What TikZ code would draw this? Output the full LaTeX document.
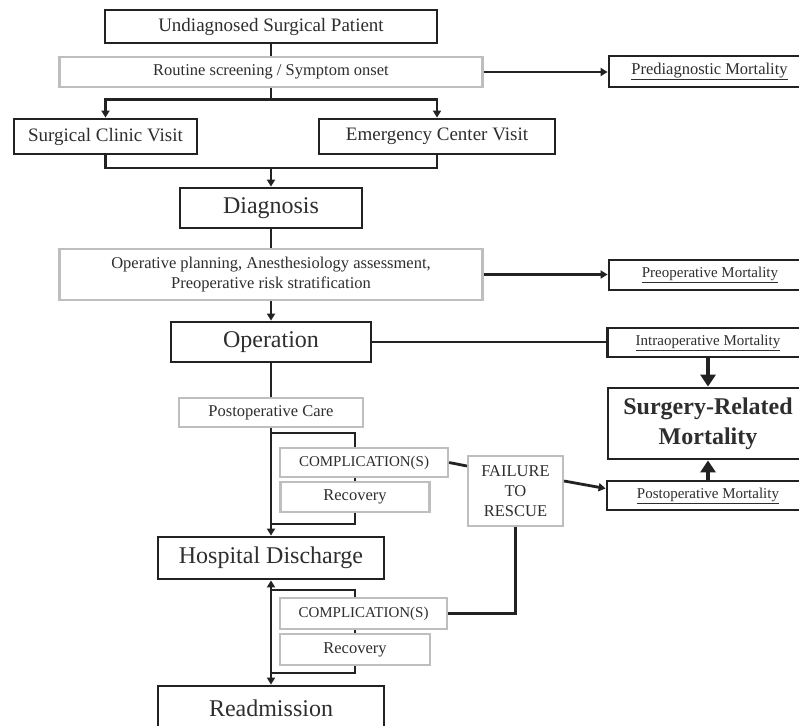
\documentclass[tikz,border=0pt]{standalone}
\usepackage{fontspec}
\setmainfont{Liberation Serif}
\usetikzlibrary{arrows.meta}
\definecolor{txt}{HTML}{2E2E2E}
\definecolor{edge}{HTML}{222222}
\definecolor{soft}{HTML}{BEBEBE}
\newcommand{\bigfont}{\fontsize{24}{28}\selectfont}
\newcommand{\midfont}{\fontsize{19}{22}\selectfont}
\newcommand{\smallfont}{\fontsize{16.5}{20}\selectfont}
\newcommand{\mortfont}{\fontsize{15}{18}\selectfont}
\newcommand{\mortlabel}[1]{\underline{#1}}

\begin{document}
\begin{tikzpicture}[
      x=1pt, y=-1pt,
      every node/.style={inner sep=0pt, align=center, text=txt},
      stage/.style={draw=edge, line width=2.8pt, fill=white},
      soft box/.style={draw=soft, line width=2.2pt, fill=white},
      link/.style={draw=edge, line width=2.8pt},
      arr/.style={-{Triangle[length=7pt,width=8pt]}},
      twoway/.style={{Triangle[length=7pt,width=8pt]}-{Triangle[length=7pt,width=8pt]}},
      heavy/.style={draw=edge, line width=3.8pt, -{Triangle[length=12pt,width=15pt]}}
    ]
      \useasboundingbox (0,0) rectangle (799,725);
      \clip (0,0) rectangle (799,725);

      % Main pathway, top to bottom
      \node[stage, font=\midfont, minimum width=332, minimum height=33] (patient) at (271,26.5) {Undiagnosed Surgical Patient};
      \node[soft box, font=\smallfont, minimum width=423, minimum height=30] (screen) at (271,72) {Routine screening / Symptom onset};
      \node[stage, font=\midfont, minimum width=183, minimum height=35] (clinic) at (105.5,136.5) {Surgical Clinic Visit};
      \node[stage, font=\midfont, minimum width=236, minimum height=35] (emerg) at (437,136.5) {Emergency Center Visit};
      \node[stage, font=\bigfont, minimum width=182, minimum height=40] (diag) at (271,208) {Diagnosis};
      \node[soft box, font=\smallfont, minimum width=423, minimum height=51] (plan) at (271,274.5) {Operative planning, Anesthesiology assessment,\\ Preoperative risk stratification};
      \node[stage, font=\bigfont, minimum width=200, minimum height=40] (oper) at (271,342) {Operation};
      \node[soft box, font=\smallfont, minimum width=184, minimum height=29] (care) at (271,412.5) {Postoperative Care};
      \node[soft box, font=\mortfont, minimum width=168, minimum height=29] (comp1) at (364,462.5) {COMPLICATION(S)};
      \node[soft box, font=\smallfont, minimum width=149, minimum height=30] (rec1) at (355,497) {Recovery};
      \node[soft box, font=\smallfont, minimum width=95, minimum height=70] (fail) at (515.5,491) {FAILURE\\ TO\\ RESCUE};
      \node[stage, font=\bigfont, minimum width=226, minimum height=42] (disch) at (271,558) {Hospital Discharge};
      \node[soft box, font=\mortfont, minimum width=167, minimum height=31] (comp2) at (363.5,613.5) {COMPLICATION(S)};
      \node[soft box, font=\smallfont, minimum width=150, minimum height=31] (rec2) at (355,649.5) {Recovery};
      \node[stage, font=\bigfont, minimum width=226, minimum height=44] (readm) at (271,708) {Readmission};

      % Mortality column on the right
      \node[stage, font=\smallfont, minimum width=201, minimum height=31] (prediag) at (709.5,71.5) {\mortlabel{Prediagnostic Mortality}};
      \node[stage, font=\mortfont, minimum width=202, minimum height=30] (preop) at (710,275) {\mortlabel{Preoperative Mortality}};
      \node[stage, font=\mortfont, minimum width=201, minimum height=29] (intraop) at (708,342.5) {\mortlabel{Intraoperative Mortality}};
      \node[stage, font=\bfseries\fontsize{24}{30}\selectfont, minimum width=200, minimum height=71] (srm) at (708,423.5) {Surgery-Related\\ Mortality};
      \node[stage, font=\mortfont, minimum width=202, minimum height=29] (postopm) at (708,495.5) {\mortlabel{Postoperative Mortality}};

      % Connectors
      \draw[link] (patient) -- (screen);
      \draw[link, arr] (screen.east) -- (screen.east -| prediag.west);
      \draw[link] (screen.south) -- ++(0,11) coordinate (split);
      \draw[link, arr] (split) -| (clinic.north);
      \draw[link, arr] (split) -| (emerg.north);
      \coordinate (merge) at (271,168);
      \draw[link] (clinic.south) |- (merge) -| (emerg.south);
      \draw[link, arr] (merge) -- (diag.north);
      \draw[link] (diag) -- (plan);
      \draw[link, arr] (plan.east) -- (plan.east -| preop.west);
      \draw[link, arr] (plan) -- (oper);
      \draw[link] (oper.east) -- (oper.east -| intraop.west);
      \draw[heavy] (intraop) -- (srm);
      \draw[heavy] (postopm) -- (srm);
      \draw[link] (oper) -- (care);
      \draw[link, arr] (care) -- (disch);

      % First complication loop
      \coordinate (out1) at (271,433);
      \coordinate (back1) at (271,524);
      \draw[link] (out1) -| (rec1.north |- comp1.north);
      \draw[link] (rec1.north |- comp1.south) -- (rec1.north);
      \draw[link] (rec1.south) |- (back1);
      \draw[link] (comp1.east) -- ([yshift=25pt]fail.west);
      \draw[link, arr] ([yshift=10pt]fail.east) -- ([yshift=7pt]postopm.west);
      \draw[link] (fail.south) |- (comp2.east);

      % Second complication loop, after discharge
      \draw[link, twoway] (disch) -- (readm);
      \coordinate (out2) at (271,590);
      \coordinate (back2) at (271,673);
      \draw[link] (out2) -| (rec2.north |- comp2.north);
      \draw[link] (rec2.north |- comp2.south) -- (rec2.north);
      \draw[link] (rec2.south) |- (back2);
\end{tikzpicture}
\end{document}
